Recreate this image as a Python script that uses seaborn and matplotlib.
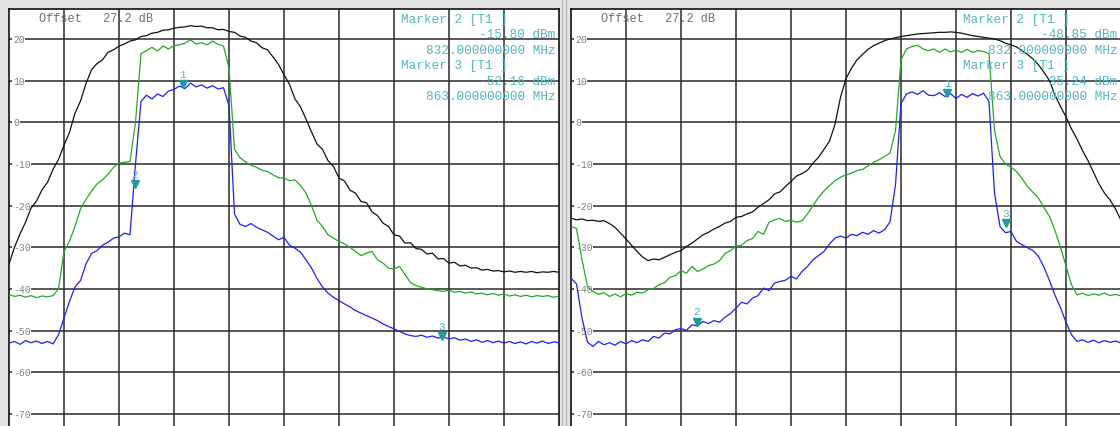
import numpy as np
import pandas as pd
import matplotlib
matplotlib.use("Agg")
import matplotlib.pyplot as plt
from matplotlib.lines import Line2D
import seaborn as sns

sns.set_theme(style="white")
plt.rcParams["font.family"] = ["Liberation Mono", "DejaVu Sans Mono"]

# sweep position in screen divisions (10 divisions across the grid)
div = np.linspace(0, 10, 101)

# --- left screen, levels in dBm ---
left_black = [
    -34.0, -30.0, -26.8, -24.0, -20.6, -18.9, -16.2, -14.4, -11.3, -8.9, -5.5,
    -2.4, 2.2, 5.1, 9.3, 12.6, 14.1, 15.0, 16.8, 17.4, 18.3,
    18.8, 19.5, 19.8, 20.6, 20.8, 21.4, 21.6, 22.1, 22.2, 22.6,
    22.8, 22.9, 23.2, 23.0, 23.1, 22.7, 22.7, 22.2, 22.3, 21.8,
    21.6, 20.7, 20.4, 19.5, 19.1, 17.9, 17.4, 15.7, 13.9, 11.4,
    9.1, 5.6, 3.7, 0.8, -2.3, -5.2, -6.5, -9.2, -10.6, -13.4,
    -14.1, -16.3, -17.0, -19.0, -19.3, -21.5, -22.4, -24.2, -25.0, -27.0,
    -27.3, -29.0, -28.9, -30.3, -30.5, -31.6, -31.4, -32.8, -32.7, -33.8,
    -33.6, -34.5, -34.3, -35.0, -34.9, -35.5, -35.3, -35.7, -35.6, -35.9,
    -35.7, -36.0, -35.8, -36.0, -35.8, -36.1, -35.9, -36.0, -35.8, -36.0,
]
left_green = [
    -41.3, -41.8, -41.5, -42.0, -41.6, -42.1, -41.7, -41.9, -41.6, -40.0, -31.0,
    -28.5, -25.0, -20.8, -18.5, -16.5, -14.8, -13.8, -12.5, -10.8, -9.8,
    -9.6, -9.4, 0.0, 16.5, 17.2, 18.0, 17.1, 18.3, 17.6, 18.4,
    18.6, 19.0, 19.8, 18.8, 19.1, 18.6, 19.5, 18.7, 18.3, 13.0,
    -6.5, -8.5, -9.5, -10.3, -10.8, -11.5, -11.8, -12.6, -13.3, -13.4,
    -14.0, -13.8, -15.2, -17.0, -20.0, -23.5, -25.0, -27.0, -27.8, -28.6,
    -29.2, -30.0, -31.0, -32.0, -31.4, -31.0, -33.0, -33.8, -35.0, -35.2,
    -34.6, -36.5, -38.5, -39.2, -39.6, -40.0, -40.2, -40.4, -40.6, -40.3,
    -40.8, -40.6, -41.0, -40.7, -41.2, -41.0, -41.4, -41.1, -41.5, -41.2,
    -41.7, -41.4, -41.8, -41.5, -41.9, -41.6, -41.8, -41.6, -42.0, -41.7,
]
left_blue = [
    -53.0, -52.6, -53.3, -52.4, -52.9, -52.5, -53.1, -52.6, -53.2, -51.0, -47.0,
    -43.0, -39.5, -38.0, -34.0, -31.5, -30.8, -29.5, -28.8, -27.8, -27.5,
    -26.6, -27.0, -10.0, 5.0, 6.5, 5.6, 6.8, 6.2, 7.5, 7.9,
    8.7, 8.1, 9.4, 8.5, 9.0, 8.2, 8.8, 8.0, 8.3, 4.0,
    -22.0, -24.5, -25.0, -24.3, -25.2, -25.8, -26.4, -27.3, -28.2, -27.6,
    -29.5, -30.2, -31.2, -33.0, -35.0, -37.5, -39.5, -41.0, -42.0, -42.8,
    -43.6, -44.3, -45.2, -45.8, -46.4, -47.0, -47.6, -48.4, -49.0, -49.6,
    -50.2, -50.8, -51.2, -51.4, -51.1, -51.6, -51.3, -51.8, -51.5, -52.0,
    -51.7, -52.3, -52.0, -52.6, -52.2, -52.8, -52.4, -52.9, -52.5, -53.0,
    -52.6, -53.1, -52.7, -53.2, -52.6, -53.0, -52.5, -53.1, -52.7, -52.9,
]

# --- right screen ---
right_black = [
    -23.0, -23.4, -23.2, -23.6, -23.5, -23.8, -23.6, -24.3, -25.2, -26.6, -28.0,
    -29.5, -31.0, -32.3, -33.2, -32.8, -33.0, -32.4, -31.8, -31.2, -30.8,
    -29.8, -29.0, -28.0, -27.0, -26.4, -25.6, -25.0, -24.2, -23.8, -22.8,
    -22.6, -22.0, -21.5, -20.4, -19.5, -18.6, -17.2, -16.7, -15.4, -14.2,
    -12.9, -12.3, -11.5, -9.8, -8.4, -6.5, -4.5, -0.5, 6.0, 10.5,
    13.0, 15.0, 16.3, 17.5, 18.4, 19.0, 19.6, 20.0, 20.3, 20.6,
    20.8, 21.0, 21.2, 21.3, 21.4, 21.5, 21.6, 21.6, 21.7, 21.6,
    21.4, 21.1, 20.8, 20.6, 20.4, 20.2, 20.0, 19.6, 19.0, 18.6,
    18.1, 17.2, 16.3, 15.2, 13.8, 12.0, 10.0, 6.5, 3.8, 1.3,
    -1.6, -4.0, -6.8, -9.2, -12.0, -14.8, -17.0, -18.6, -20.8, -23.5,
]
right_green = [
    -25.0, -25.5, -33.0, -39.5, -40.6, -41.3, -40.9, -41.8, -41.2, -41.9, -41.1,
    -41.5, -40.8, -41.0, -40.2, -39.9, -39.0, -38.5, -37.2, -36.8, -35.6,
    -36.2, -34.6, -35.8, -35.2, -34.4, -34.0, -33.2, -31.5, -30.8, -29.7,
    -29.5, -28.4, -27.9, -26.2, -26.9, -24.0, -23.4, -23.1, -23.8, -23.5,
    -24.0, -23.6, -22.0, -20.0, -18.0, -16.5, -15.2, -14.0, -13.2, -12.6,
    -12.2, -11.6, -11.3, -10.5, -9.6, -9.0, -8.2, -7.4, -2.0, 15.0,
    17.6, 18.2, 18.5, 17.6, 17.2, 17.6, 16.8, 17.6, 16.9, 17.3,
    16.8, 17.5, 16.8, 17.2, 17.0, 16.5, -2.0, -8.2, -10.0, -10.8,
    -11.8, -13.5, -15.4, -16.8, -18.2, -20.5, -22.6, -26.0, -30.0, -34.5,
    -39.0, -41.4, -41.0, -41.6, -41.2, -41.5, -41.0, -41.6, -41.3, -41.7,
]
right_blue = [
    -37.4, -38.8, -47.0, -52.8, -53.8, -52.6, -53.4, -52.9, -53.5, -52.6, -53.2,
    -52.4, -52.9, -52.2, -52.6, -51.4, -51.8, -50.6, -50.8, -49.8, -49.5,
    -49.9, -48.6, -48.9, -47.8, -48.3, -47.6, -48.0, -46.8, -45.9, -44.6,
    -43.2, -43.6, -42.2, -41.6, -39.8, -40.4, -38.6, -38.2, -37.9, -37.0,
    -37.6, -35.8, -34.6, -33.0, -32.0, -31.0, -29.2, -27.8, -27.3, -27.8,
    -26.9, -27.2, -26.4, -26.9, -26.0, -26.6, -25.8, -23.9, -15.0, 4.5,
    6.8, 7.3, 6.7, 7.6, 6.5, 6.4, 7.1, 6.2, 6.9, 5.7,
    6.7, 6.0, 6.9, 6.3, 7.0, 5.0, -17.0, -25.0, -26.5, -26.2,
    -28.6, -29.4, -30.1, -30.8, -32.2, -34.8, -38.0, -41.5, -44.5, -48.0,
    -51.0, -52.6, -52.2, -52.8, -52.3, -52.9, -52.4, -52.8, -52.5, -53.0,
]

# markers: position (div), level where the triangle sits
marker_ids = ["1", "2", "3"]
left_marker_div = [3.16, 2.29, 7.87]
left_marker_lvl = [9.2, -14.8, -51.3]
right_marker_div = [6.84, 2.29, 7.91]
right_marker_lvl = [7.0, -47.9, -24.2]

left_readout = ["Marker 2 [T1 ]", "-15.80 dBm", "832.000000000 MHz",
                "Marker 3 [T1 ]", "-52.16 dBm", "863.000000000 MHz"]
right_readout = ["Marker 2 [T1 ]", "-48.85 dBm", "832.000000000 MHz",
                 "Marker 3 [T1 ]", "-35.24 dBm", "863.000000000 MHz"]

grid_levels = list(range(20, -71, -10))
trace_colors = {"max": "#111111", "avg": "#27a827", "min": "#1f1fff"}
teal = "#4fb8bd"


def draw_screen(ax, black, green, blue, mk_div, mk_lvl, readout):
    df = pd.DataFrame({
        "div": np.concatenate([div, div, div]),
        "level": black + green + blue,
        "trace": ["max"] * 101 + ["avg"] * 101 + ["min"] * 101,
    })
    sns.lineplot(data=df, x="div", y="level", hue="trace", palette=trace_colors,
                 estimator=None, sort=False, linewidth=0.9, legend=False, ax=ax, zorder=3)

    ax.set_xlim(0, 10)
    ax.set_ylim(-72.9, 27.2)
    ax.set_xticks(range(1, 10))
    ax.set_yticks(grid_levels)
    ax.set_xticklabels([])
    ax.set_yticklabels([])
    ax.tick_params(length=0)
    ax.set_xlabel("")
    ax.set_ylabel("")
    ax.grid(True, color="#2b2b2b", linewidth=1.1)
    ax.set_axisbelow(True)
    ax.set_facecolor("white")
    for side in ["top", "left", "right"]:
        ax.spines[side].set_color("#111111")
        ax.spines[side].set_linewidth(1.2)
    ax.spines["bottom"].set_visible(False)

    for lvl in grid_levels:
        ax.text(0.073, lvl, str(lvl), fontsize=7, color="#808080", va="center", ha="left",
                bbox=dict(facecolor="white", edgecolor="none", pad=0.5), zorder=2)

    ax.text(0.0545, 0.978, "Offset   27.2 dB", transform=ax.transAxes, fontsize=8.6,
            color="#6e6e6e", va="center", ha="left", zorder=5)

    ax.plot(mk_div, mk_lvl, ls="none", marker="v", ms=5.5, color="#229a9e", zorder=6)
    for mid, x, y in zip(marker_ids, mk_div, mk_lvl):
        ax.annotate(mid, (x, y), xytext=(0, 7.5), textcoords="offset points", ha="center",
                    va="center", fontsize=8, color=teal, zorder=6)

    for i, line in enumerate(readout):
        y = 0.976 - i * 0.0369
        if line.startswith("Marker"):
            ax.text(0.713, y, line, transform=ax.transAxes, fontsize=9.2, color=teal,
                    ha="left", va="center", zorder=7)
        else:
            ax.text(0.993, y, line, transform=ax.transAxes, fontsize=9.2, color=teal,
                    ha="right", va="center", zorder=7)


fig = plt.figure(figsize=(11.2, 4.27), dpi=100, facecolor="#e3e3e3")
ax_left = fig.add_axes([9 / 1120, 0, 550 / 1120, 417 / 427])
ax_right = fig.add_axes([571 / 1120, 0, 550 / 1120, 417 / 427])

draw_screen(ax_left, left_black, left_green, left_blue,
            left_marker_div, left_marker_lvl, left_readout)
draw_screen(ax_right, right_black, right_green, right_blue,
            right_marker_div, right_marker_lvl, right_readout)

# separator between the two screens
for xp in [562, 566]:
    fig.add_artist(Line2D([xp / 1120, xp / 1120], [0, 1], color="#b4b4b4", linewidth=0.8))

fig.savefig("out.png", dpi=100, facecolor=fig.get_facecolor())
plt.close(fig)
